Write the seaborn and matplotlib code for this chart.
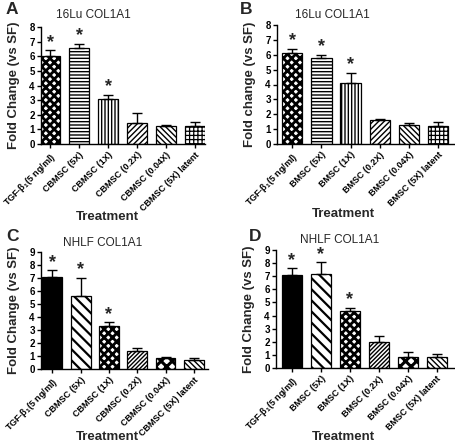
import matplotlib
matplotlib.use("Agg")
import matplotlib.pyplot as plt
import seaborn as sns
import pandas as pd
import numpy as np

sns.set_style("white")
plt.rcParams['font.family'] = ['Liberation Sans', 'DejaVu Sans']
plt.rcParams['mathtext.fontset'] = 'custom'
plt.rcParams['mathtext.rm'] = 'Liberation Sans:bold'
plt.rcParams['mathtext.it'] = 'Liberation Sans:bold'
plt.rcParams['mathtext.bf'] = 'Liberation Sans:bold'
plt.rcParams['hatch.linewidth'] = 1.0

# ---------------- data ----------------
labels_cb = ['TGF-$\\beta_1$(5 ng/ml)', 'CBMSC (5X)', 'CBMSC (1X)', 'CBMSC (0.2X)',
             'CBMSC (0.04X)', 'CBMSC (5X) latent']
labels_bm = ['TGF-$\\beta_1$(5 ng/ml)', 'BMSC (5X)', 'BMSC (1X)', 'BMSC (0.2X)',
             'BMSC (0.04X)', 'BMSC (5X) latent']

vals_A = [6.05, 6.55, 3.05, 1.45, 1.25, 1.25]
err_A = [0.35, 0.30, 0.30, 0.70, 0.02, 0.25]
sig_A = [True, True, True, False, False, False]

vals_B = [6.10, 5.80, 4.10, 1.60, 1.30, 1.20]
err_B = [0.30, 0.20, 0.70, 0.10, 0.13, 0.25]
sig_B = [True, True, True, False, False, False]

vals_C = [7.10, 5.60, 3.30, 1.40, 0.85, 0.70]
err_C = [0.50, 1.40, 0.30, 0.20, 0.05, 0.12]
sig_C = [True, True, True, False, False, False]

vals_D = [7.10, 7.20, 4.35, 2.00, 0.85, 0.85]
err_D = [0.50, 0.85, 0.25, 0.45, 0.40, 0.25]
sig_D = [True, True, True, False, False, False]

titles = ['16Lu COL1A1', '16Lu COL1A1', 'NHLF COL1A1', 'NHLF COL1A1']
ylabels = ['Fold Change (vs SF)', 'Fold change (vs SF)', 'Fold Change (vs SF)', 'Fold Change (vs SF)']
letters = ['A', 'B', 'C', 'D']
xlabel = 'Treatment'

# ---------------- styling ----------------
# (facecolor, hatch, hatch linewidth)
styles_top = [('white', 'xxxx', 2.0), ('white', '-----', 1.0), ('white', '|||||', 1.0),
              ('white', '//////', 1.0), ('white', '\\\\\\\\\\\\', 1.0), ('white', '++++', 0.9)]
styles_bot = [('black', '', 1.0), ('white', '\\\\\\', 1.6), ('white', 'xxxx', 2.0),
              ('white', '////////', 1.0), ('white', 'xxx', 2.2), ('white', '\\\\\\\\\\\\', 1.0)]

fig = plt.figure(figsize=(4.55, 4.46), dpi=100)
W, H = 455.0, 446.0

def px_axes(l, r, top, bot):
    return [l / W, 1 - bot / H, (r - l) / W, (bot - top) / H]

panels = [
    dict(vals=vals_A, err=err_A, sig=sig_A, labels=labels_cb, ymax=8,
         pos=px_axes(41, 205, 27, 144), xlim=(-0.32, 5.34), styles=styles_top,
         title_xy=(93, 15), letter_xy=(6, 2), xlabel_xy=(107, 217)),
    dict(vals=vals_B, err=err_B, sig=sig_B, labels=labels_bm, ymax=8,
         pos=px_axes(277, 454, 25, 144), xlim=(-0.52, 5.54), styles=styles_top,
         title_xy=(332, 15), letter_xy=(240, 2), xlabel_xy=(343, 214)),
    dict(vals=vals_C, err=err_C, sig=sig_C, labels=labels_cb, ymax=9,
         pos=px_axes(41, 208, 252, 369), xlim=(-0.4, 5.5), styles=styles_bot,
         title_xy=(103, 243), letter_xy=(6, 229), xlabel_xy=(107, 437)),
    dict(vals=vals_D, err=err_D, sig=sig_D, labels=labels_bm, ymax=9,
         pos=px_axes(276, 454, 250, 368), xlim=(-0.55, 5.6), styles=styles_bot,
         title_xy=(340, 240), letter_xy=(249, 229), xlabel_xy=(343, 437)),
]

for i, p in enumerate(panels):
    ax = fig.add_axes(p['pos'])
    df = pd.DataFrame({'Treatment': p['labels'], 'Fold': p['vals']})
    sns.barplot(data=df, x='Treatment', y='Fold', ax=ax, color='white',
                width=0.7, edgecolor='black', linewidth=0.9, errorbar=None)
    for patch, (fc, hatch, hlw) in zip(ax.patches, p['styles']):
        patch.set_facecolor(fc)
        patch.set_edgecolor('black')
        patch.set_hatch(hatch)
        if hasattr(patch, 'set_hatch_linewidth'):
            patch.set_hatch_linewidth(hlw)
    x = np.arange(len(p['vals']))
    err = np.array(p['err'])
    ax.errorbar(x, p['vals'], yerr=[np.zeros_like(err), err], fmt='none',
                ecolor='black', elinewidth=1.0, capsize=3.5, capthick=1.0, zorder=5)
    for xi, v, e, s in zip(x, p['vals'], err, p['sig']):
        if s:
            ax.annotate('*', (xi, v + e), xytext=(0, 2.5), textcoords='offset points',
                        ha='center', va='baseline', fontsize=13, fontweight='bold',
                        annotation_clip=False)
    ax.set_ylim(0, p['ymax'])
    ax.set_xlim(*p['xlim'])
    ax.set_yticks(range(0, p['ymax'] + 1))
    ax.set_yticklabels([str(t) for t in range(0, p['ymax'] + 1)],
                       fontsize=7, fontweight='bold')
    ax.set_xticks(x)
    ax.set_xticklabels(p['labels'], rotation=45, ha='right', rotation_mode='anchor',
                       fontsize=6.5, fontweight='bold')
    ax.tick_params(axis='both', direction='out', length=3, width=1, pad=1.5,
                   bottom=True, left=True, colors='black')
    for side in ['top', 'right']:
        ax.spines[side].set_visible(False)
    for side in ['left', 'bottom']:
        ax.spines[side].set_linewidth(1.0)
        ax.spines[side].set_color('black')
    ax.set_xlabel('')
    ax.set_ylabel(ylabels[i], fontsize=9.5, fontweight='bold', labelpad=7)
    tx, ty = p['title_xy']
    fig.text(tx / W, 1 - ty / H, titles[i], ha='center', va='center', fontsize=8.5)
    lx, ly = p['letter_xy']
    fig.text(lx / W, 1 - ly / H, letters[i], ha='left', va='top',
             fontsize=12.5, fontweight='bold')
    xx, xy = p['xlabel_xy']
    fig.text(xx / W, 1 - xy / H, xlabel, ha='center', va='center',
             fontsize=9.5, fontweight='bold')

fig.savefig('out.png', dpi=100)
